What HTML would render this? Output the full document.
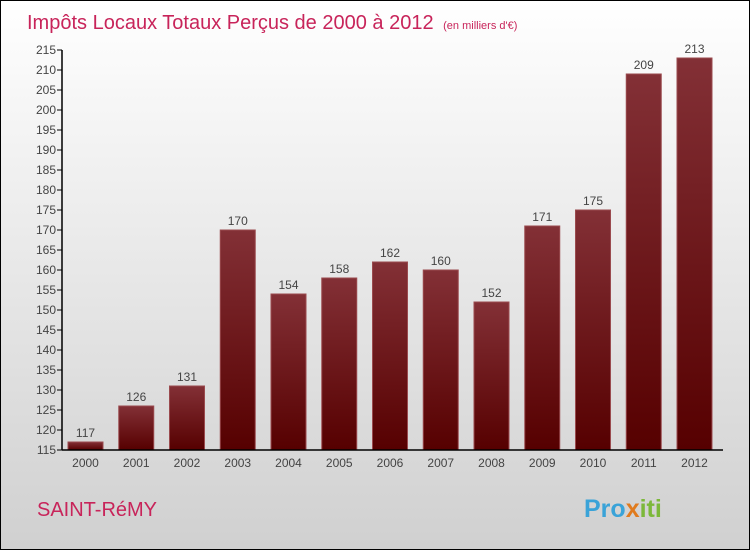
<!DOCTYPE html>
<html><head><meta charset="utf-8"><style>
body{margin:0}
#c{position:relative;width:748px;height:548px;border:1px solid #000;background:linear-gradient(#fff,#ececec 40%,#d0d0d0);font-family:"Liberation Sans","DejaVu Sans",sans-serif;overflow:hidden}
</style></head><body>
<div id="c">
<svg id="s" width="748" height="548" style="position:absolute;left:0;top:0">
<defs><linearGradient id="g" x1="0" y1="0" x2="0" y2="1"><stop offset="0" stop-color="#833036"/><stop offset="1" stop-color="#560000"/></linearGradient></defs>
<text x="26" y="28" font-size="20" fill="#c8245a">Impôts Locaux Totaux Perçus de 2000 à 2012 <tspan font-size="11" dx="4">(en milliers d'€)</tspan></text>
<text x="36" y="515" font-size="20" fill="#c8245a">SAINT-RéMY</text>
<text x="583" y="516" font-size="25" font-weight="bold" fill="#3aa3d8">Pro<tspan fill="#e07b1e">x</tspan><tspan fill="#7cb83a">iti</tspan></text>
</svg>
</div>
<script>
const years=["2000","2001","2002","2003","2004","2005","2006","2007","2008","2009","2010","2011","2012"];
const values=[117,126,131,170,154,158,162,160,152,171,175,209,213];
const ticks=[115,120,125,130,135,140,145,150,155,160,165,170,175,180,185,190,195,200,205,210,215];
const s=document.getElementById('s');const NS='http://www.w3.org/2000/svg';
const y=v=>449-(v-115)*4;const x=i=>84.5+i*50.75;
function mk(t,a){const e=document.createElementNS(NS,t);for(const k in a)e.setAttribute(k,a[k]);s.appendChild(e);return e;}
ticks.forEach(t=>{
const l=mk('line',{x1:56,x2:61,y1:y(t),y2:y(t),stroke:'#000'});


const tx=mk('text',{x:55,y:y(t)+4,'font-size':12,fill:'#444','text-anchor':'end'});tx.textContent=t;


});
values.forEach((v,i)=>{
const r=mk('rect',{x:x(i)-17.5,y:y(v),width:35,height:y(115)-y(v),fill:'url(#g)',stroke:'#9a4a4e','stroke-width':1});


const vl=mk('text',{x:x(i),y:y(v)-5,'font-size':12,fill:'#444','text-anchor':'middle'});vl.textContent=v;


const xl=mk('text',{x:x(i),y:466,'font-size':12,fill:'#444','text-anchor':'middle'});xl.textContent=years[i];


});
const ya=mk('line',{x1:61,x2:61,y1:y(215),y2:y(115),stroke:'#000','stroke-width':1.5});


const xa=mk('line',{x1:61,x2:722,y1:y(115),y2:y(115),stroke:'#000','stroke-width':1.5});


</script>
</body></html>
